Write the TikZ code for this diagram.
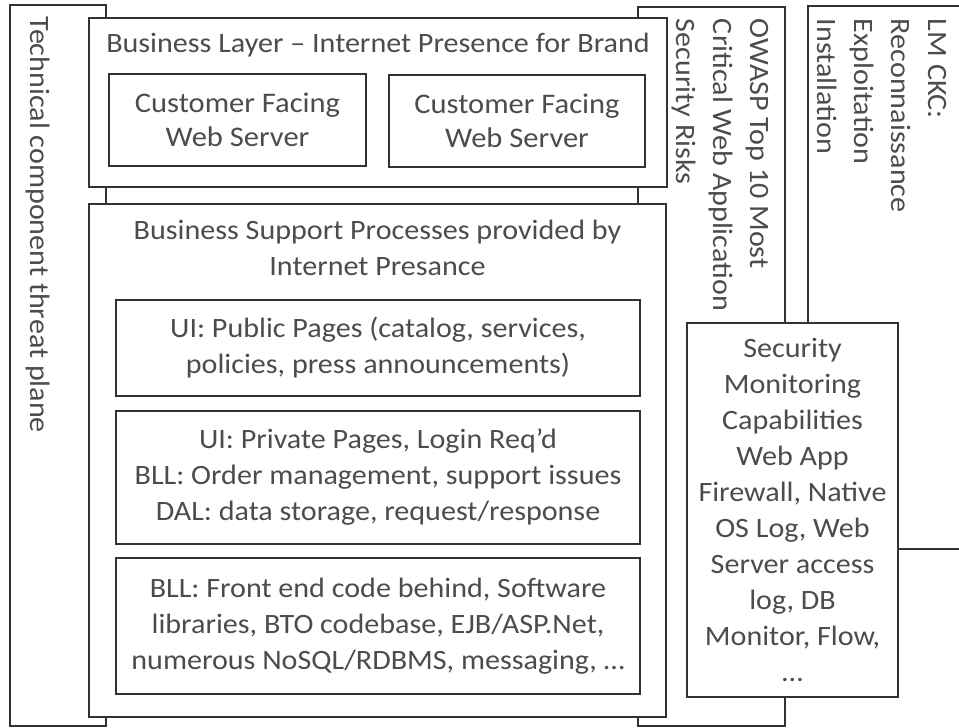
\documentclass[tikz,border=0pt]{standalone}
\usepackage{fontspec}
\setmainfont[FakeStretch=1.075]{Carlito}
\usepackage{tikz}
\usetikzlibrary{positioning}

\begin{document}
\begin{tikzpicture}[x=0.5pt, y=0.5pt,
      every node/.style={text=black!70, inner sep=0pt},
      box/.style={draw=black!80, line width=1.4pt, fill=white},
      body/.style={align=center, font=\fontsize{14}{18}\selectfont},
      big/.style={align=center, font=\fontsize{14.2}{17}\selectfont},
      side/.style={rotate=-90, anchor=west, align=left, font=\fontsize{14}{18.5}\selectfont}]
  \useasboundingbox (0,0) rectangle (959,728);
  \clip (0,0) rectangle (959,728);
  % planes behind the layers
  \node[box, minimum width=48pt, minimum height=360.5pt] (tech) at (58,362.5) {};
  \node[box, minimum width=73.5pt, minimum height=359.5pt] (owasp) at (711.5,361.5) {};
  \node[box, minimum width=83.5pt, minimum height=271.5pt] (lmckc) at (891.5,450.5) {};
  \node[side] (techtxt) at ([xshift=-10pt,yshift=-6.5pt]tech.north) {Technical component threat plane};
  \node[side] (owasptxt) at ([xshift=4.25pt,yshift=-6.5pt]owasp.north) {OWASP Top 10 Most\\Critical Web Application\\Security Risks};
  \node[side] (lmtxt) at ([xshift=-4.75pt,yshift=-7pt]lmckc.north) {LM CKC:\\Reconnaissance\\Exploitation\\Installation};
  % business layer
  \node[box, minimum width=289pt, minimum height=84.5pt] (layer) at (378,625.5) {};
  \node[body, anchor=base] (layertxt) at ([yshift=-18pt]layer.north) {Business Layer -- Internet Presence for Brand};
  \node[box, big, minimum width=128.5pt, minimum height=46pt] (webA) at (237.5,608) {Customer Facing\\Web Server};
  \node[box, big, minimum width=128pt, minimum height=46pt] (webB) at (517,607) {Customer Facing\\Web Server};
  % support processes
  \node[box, minimum width=288.5pt, minimum height=256.5pt] (support) at (377.5,267.5) {};
  \node[body, anchor=base] (supporttxt) at ([yshift=-36.5pt]support.north) {Business Support Processes provided by\\Internet Presance};
  \node[box, body, minimum width=262pt, minimum height=48pt] (public) at (378,380) {UI: Public Pages (catalog, services,\\policies, press announcements)};
  \node[box, body, minimum width=262pt, minimum height=66.5pt] (private) at (378,250.5) {UI: Private Pages, Login Req’d\\BLL: Order management, support issues\\DAL: data storage, request/response};
  \node[box, body, minimum width=262pt, minimum height=68pt] (bll) at (378,102) {BLL: Front end code behind, Software\\libraries, BTO codebase, EJB/ASP.Net,\\numerous NoSQL/RDBMS, messaging, \dots};
  % monitoring
  \node[box, body, minimum width=105.5pt, minimum height=187pt] (security) at (792.5,218) {Security\\Monitoring\\Capabilities\\Web App\\Firewall, Native\\OS Log, Web\\Server access\\log, DB\\Monitor, Flow,\\\dots};
\end{tikzpicture}
\end{document}
